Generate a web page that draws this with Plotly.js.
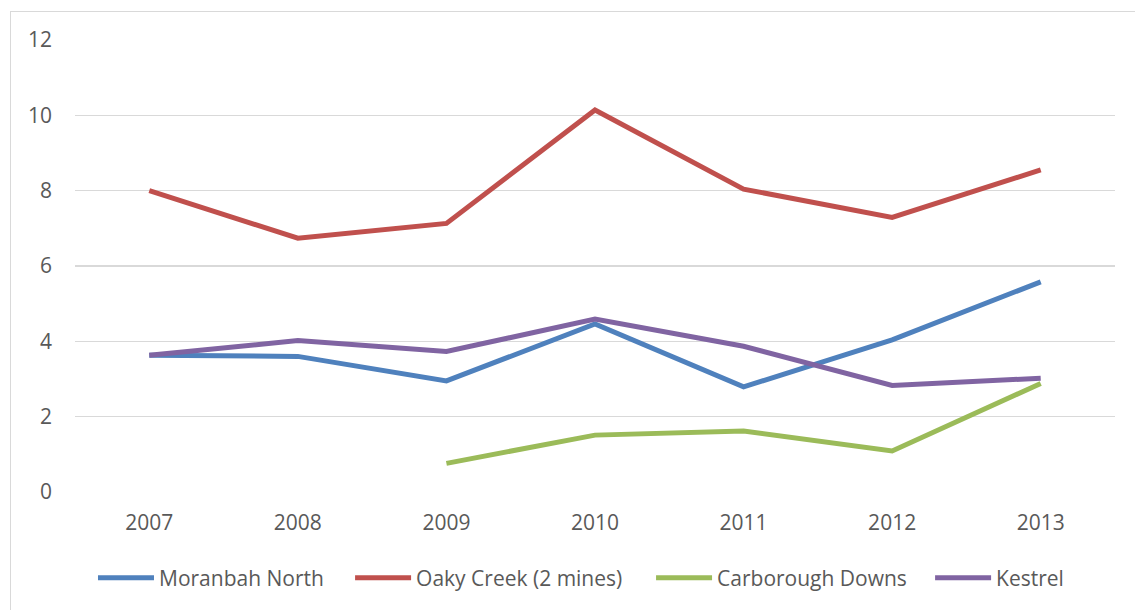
<!DOCTYPE html>
<html>
<head>
<meta charset="utf-8">
<script src="https://cdn.plot.ly/plotly-3.0.1.min.js"></script>
<style>
  html, body { margin: 0; padding: 0; background: #ffffff; overflow: hidden; }
  #frame { position: absolute; left: 10px; top: 11px; width: 1140px; height: 620px; border: 1px solid #d9d9d9; box-sizing: border-box; }
  #chart { position: absolute; left: 0; top: 0; width: 1135px; height: 610px; }
</style>
</head>
<body>
<div id="frame"></div>
<div id="chart"></div>
<script>
const years = ['2007', '2008', '2009', '2010', '2011', '2012', '2013'];
const moranbahNorth = [3.63, 3.60, 2.95, 4.46, 2.79, 4.04, 5.58];
const oakyCreek = [8.00, 6.74, 7.13, 10.14, 8.04, 7.29, 8.55];
const carboroughDowns = [null, null, 0.76, 1.51, 1.62, 1.09, 2.88];
const kestrel = [3.63, 4.02, 3.73, 4.59, 3.87, 2.83, 3.02];
const seriesNames = ['Moranbah North', 'Oaky Creek (2 mines)', 'Carborough Downs', 'Kestrel'];
const yTicks = [0, 2, 4, 6, 8, 10, 12];

const colors = ['#4f81bd', '#c0504d', '#9bbb59', '#8064a2'];
const legendIds = ['legend', 'legend2', 'legend3', 'legend4'];
const legendX = [0.0173, 0.2645, 0.5539, 0.8222];

const data = [moranbahNorth, oakyCreek, carboroughDowns, kestrel].map((vals, i) => ({
  type: 'scatter',
  mode: 'lines',
  x: years,
  y: vals,
  name: seriesNames[i],
  legend: legendIds[i],
  line: { color: colors[i], width: 5, shape: 'linear' },
  connectgaps: false,
  hoverinfo: 'x+y+name'
}));

const font = { family: 'Open Sans, sans-serif', size: 21, color: '#595959' };

const layout = {
  width: 1135,
  height: 610,
  margin: { l: 75, r: 20, t: 40, b: 117 },
  paper_bgcolor: 'rgba(0,0,0,0)',
  plot_bgcolor: 'rgba(0,0,0,0)',
  font: font,
  showlegend: true,
  xaxis: {
    type: 'category',
    categoryorder: 'array',
    categoryarray: years,
    range: [-0.5, 6.5],
    showgrid: false,
    zeroline: false,
    showline: false,
    ticks: '',
    tickfont: font,
    ticklabelstandoff: 16,
    fixedrange: true
  },
  yaxis: {
    range: [0, 12],
    tickvals: yTicks,
    ticktext: yTicks.map(String),
    showgrid: true,
    gridcolor: '#d9d9d9',
    gridwidth: 1.5,
    zeroline: false,
    showline: false,
    ticks: '',
    tickfont: font,
    ticklabelstandoff: 22,
    fixedrange: true
  }
};

legendIds.forEach((id, i) => {
  layout[id] = {
    orientation: 'h',
    x: legendX[i],
    xanchor: 'left',
    y: -0.188,
    yanchor: 'middle',
    font: font,
    itemwidth: 56,
    bgcolor: 'rgba(0,0,0,0)',
    borderwidth: 0
  };
});

Plotly.newPlot('chart', data, layout, { displayModeBar: false, staticPlot: true });
</script>
</body>
</html>
